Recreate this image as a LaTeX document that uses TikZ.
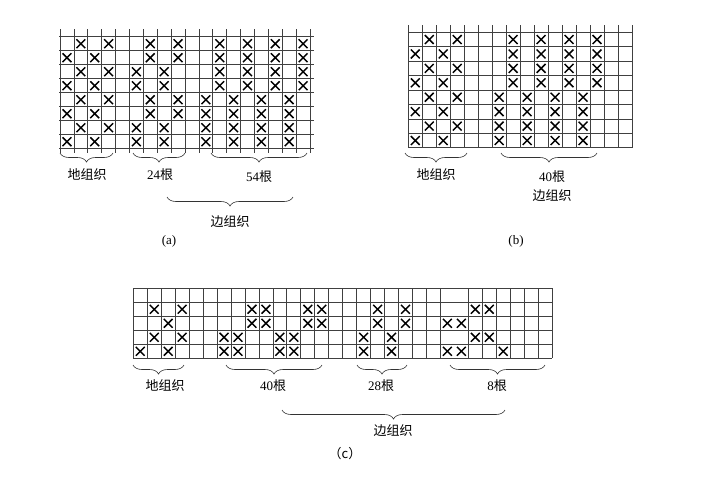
\documentclass[tikz,border=0pt]{standalone}
\usepackage{fontspec}
\setmainfont{Liberation Serif}
\newfontfamily\cjk{Noto Sans CJK SC}
\usetikzlibrary{shapes.misc, decorations.pathreplacing}
\tikzset{
    gridline/.style={black!75, line width=0.75pt},
    crossmark/.style={cross out, draw=black, line width=1.45pt, inner sep=0pt, minimum size=7.4pt},
    bracemark/.style={decorate, decoration={brace, amplitude=9pt, aspect=0.5}, black!80, line width=0.6pt},
    weavelabel/.style={font=\fontsize{13}{15}\selectfont, text=black, inner sep=0pt}
}

\begin{document}
\begin{tikzpicture}[x=1pt, y=-1pt]
    \useasboundingbox (0, 0) rectangle (702, 483);

    % Panel (a)
    \begin{scope}[shift={(60, 36.7)}, x=13.89pt, y=-14pt]
        \foreach \i in {0,...,18} \draw[gridline] (\i, -0.55) -- (\i, 8.3);
        \foreach \j in {0,...,8} \draw[gridline] (-0.07, \j) -- (18.3, \j);
        \foreach \r/\cols in {1/{1,3,6,8,11,13,15,17}, 2/{0,2,6,8,11,13,15,17},
                              3/{1,3,5,7,11,13,15,17}, 4/{0,2,5,7,11,13,15,17},
                              5/{1,3,6,8,10,12,14,16}, 6/{0,2,6,8,10,12,14,16},
                              7/{1,3,5,7,10,12,14,16}, 8/{0,2,5,7,10,12,14,16}}
            \foreach \c in \cols \node[crossmark] (a-\r-\c) at (\c+0.5, \r-0.5) {};
    \end{scope}
    \draw[bracemark] (113, 153) -- (60, 153);
    \draw[bracemark] (185, 153) -- (133, 153);
    \draw[bracemark] (307, 153) -- (211, 153);
    \draw[bracemark] (293, 197) -- (167, 197);
    \node[weavelabel] (a-ground) at (87, 175) {\cjk 地组织};
    \node[weavelabel] (a-count1) at (160, 175) {24{\cjk 根}};
    \node[weavelabel] (a-count2) at (259, 177) {54{\cjk 根}};
    \node[weavelabel] (a-edge) at (230, 222) {\cjk 边组织};
    \node[weavelabel] (a-tag) at (169, 241) {(a)};

    % Panel (b)
    \begin{scope}[shift={(408.3, 32.3)}, x=13.98pt, y=-14.43pt]
        \foreach \i in {0,...,16} \draw[gridline] (\i, -0.5) -- (\i, 8);
        \foreach \j in {0,...,8} \draw[gridline] (0, \j) -- (16, \j);
        \foreach \r/\cols in {1/{1,3,7,9,11,13}, 2/{0,2,7,9,11,13},
                              3/{1,3,7,9,11,13}, 4/{0,2,7,9,11,13},
                              5/{1,3,6,8,10,12}, 6/{0,2,6,8,10,12},
                              7/{1,3,6,8,10,12}, 8/{0,2,6,8,10,12}}
            \foreach \c in \cols \node[crossmark] (b-\r-\c) at (\c+0.5, \r-0.5) {};
    \end{scope}
    \draw[bracemark] (467, 153) -- (405, 153);
    \draw[bracemark] (597, 153) -- (501, 153);
    \node[weavelabel] (b-ground) at (436, 175) {\cjk 地组织};
    \node[weavelabel] (b-count) at (552, 177) {40{\cjk 根}};
    \node[weavelabel] (b-edge) at (552, 196) {\cjk 边组织};
    \node[weavelabel] (b-tag) at (516, 241) {(b)};

    % Panel (c)
    \begin{scope}[shift={(133.3, 288.3)}, x=13.96pt, y=-14pt]
        \foreach \i in {0,...,22,24,25,...,30} \draw[gridline] (\i, 0) -- (\i, 5);
        \foreach \j in {0,...,5} \draw[gridline] (0, \j) -- (30, \j);
        \foreach \r/\cols in {2/{1,3,8,9,12,13,17,19,24,25}, 3/{2,8,9,12,13,17,19,22,23},
                              4/{1,3,6,7,10,11,16,18,24,25}, 5/{0,2,6,7,10,11,16,18,22,23,26}}
            \foreach \c in \cols \node[crossmark] (c-\r-\c) at (\c+0.5, \r-0.5) {};
    \end{scope}
    \draw[bracemark] (184, 365) -- (133, 365);
    \draw[bracemark] (322, 365) -- (226, 365);
    \draw[bracemark] (407, 365) -- (357, 365);
    \draw[bracemark] (545, 365) -- (450, 365);
    \draw[bracemark] (505, 410) -- (282, 410);
    \node[weavelabel] (c-ground) at (165, 386) {\cjk 地组织};
    \node[weavelabel] (c-count1) at (273, 386) {40{\cjk 根}};
    \node[weavelabel] (c-count2) at (381, 386) {28{\cjk 根}};
    \node[weavelabel] (c-count3) at (497, 386) {8{\cjk 根}};
    \node[weavelabel] (c-edge) at (393, 431) {\cjk 边组织};
    \node[weavelabel] (c-tag) at (345, 454) {\cjk （c）};
\end{tikzpicture}
\end{document}
